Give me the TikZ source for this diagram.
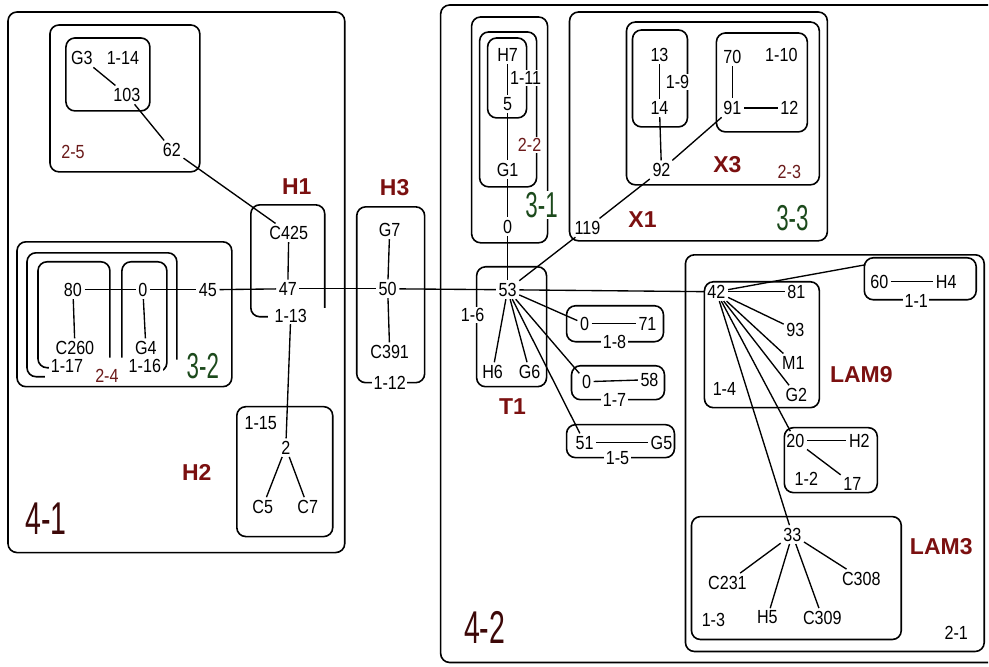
\documentclass[tikz,border=0pt]{standalone}
\usepackage{fontspec}
\setmainfont{Liberation Sans}[FakeStretch=0.85]
\newfontfamily\tagfont{Liberation Sans}
\newfontfamily\bigfont{Liberation Sans}[FakeStretch=0.62]
\definecolor{tagred}{HTML}{7B1010}
\definecolor{lvlred}{HTML}{6B1A1A}
\definecolor{bigred}{HTML}{3D0808}
\definecolor{lvlgreen}{HTML}{1C4A1C}

\begin{document}
\begin{tikzpicture}[x=1pt, y=-1pt,
    grp/.style={line width=1.6pt, rounded corners=9pt},
    lnk/.style={line width=1.35pt},
    el/.style={inner sep=2.5pt, font=\fontsize{19}{21}\selectfont},
    brd/.style={el, fill=white, inner sep=1.5pt},
    lvl/.style={el, text=lvlred},
    tag/.style={text=tagred, font=\tagfont\bfseries\fontsize{23}{25}\selectfont},
    big/.style={text=bigred, font=\bigfont\fontsize{46}{48}\selectfont},
    grn/.style={text=lvlgreen, font=\bigfont\fontsize{36}{38}\selectfont}]
    \fill[white] (0,0) rectangle (989,667);
    \draw[grp] (8,12) rectangle (345,553);
    \draw[grp] (50,25) rectangle (200,172);
    \draw[grp] (66,38) rectangle (150,111);
    \draw[grp] (325,308) -- (325,205) -- (251,205) -- (251,317) -- (268,317);
    \draw[grp] (17,242) rectangle (232,387);
    \draw[grp] (45,377) -- (27,377) -- (27,253) -- (177,253) -- (177,360);
    \draw[grp] (50,368) -- (38,368) -- (38,262) -- (110,262) -- (110,358);
    \draw[grp] (122,358) -- (122,262) -- (167,262) -- (167,372) -- (158,372);
    \draw[grp] (237,407) rectangle (333,537);
    \draw[grp] (357,207) rectangle (425,383);
    \draw[grp] (989,5) -- (441,5) -- (441,663) -- (989,663);
    \draw[grp] (472,17) rectangle (548,243);
    \draw[grp] (480,32) rectangle (537,187);
    \draw[grp] (488,38) rectangle (527,118);
    \draw[grp] (477,267) rectangle (547,387);
    \draw[grp] (567,306) rectangle (664,342);
    \draw[grp] (572,366) rectangle (665,400);
    \draw[grp] (567,425) rectangle (675,458);
    \draw[grp] (570,12) rectangle (828,241);
    \draw[grp] (627,22) rectangle (820,185);
    \draw[grp] (633,30) rectangle (688,127);
    \draw[grp] (717,33) rectangle (808,132);
    \draw[grp] (686,255) rectangle (985,652);
    \draw[grp] (865,258) rectangle (977,300);
    \draw[grp] (705,282) rectangle (820,408);
    \draw[grp] (785,428) rectangle (878,493);
    \draw[grp] (692,517) rectangle (902,640);

    \node[el] (g3) at (82,58) {G3};
    \node[el] (l114) at (123,58) {1-14};
    \node[el] (n103) at (127,95) {103};
    \node[el] (n62) at (172,150) {62};
    \node[lvl] (l25) at (73,152) {2-5};
    \node[tag] (h1) at (297,187) {H1};
    \node[el] (c425) at (289,233) {C425};
    \node[el] (n47) at (288,289) {47};
    \node[brd] (l113) at (291,316) {1-13};
    \node[el] (n45) at (208,290) {45};
    \node[el] (n0a) at (143,290) {0};
    \node[el] (n80) at (73,290) {80};
    \node[el] (c260) at (75,348) {C260};
    \node[el] (g4) at (146,348) {G4};
    \node[brd] (l117) at (67,366) {1-17};
    \node[lvl, fill=white, inner sep=1.5pt] (l24) at (107,376) {2-4};
    \node[brd] (l116) at (145,366) {1-16};
    \node[grn] (l32) at (203,366) {3-2};
    \node[el] (l115) at (261,423) {1-15};
    \node[el] (n2) at (286,448) {2};
    \node[el] (c5) at (263,507) {C5};
    \node[el] (c7) at (308,507) {C7};
    \node[tag] (h2) at (197,473) {H2};
    \node[big] (l41) at (46,519) {4-1};

    \node[tag] (h3) at (395,188) {H3};
    \node[el] (g7) at (390,230) {G7};
    \node[el] (n50) at (388,289) {50};
    \node[el] (c391) at (390,352) {C391};
    \node[brd] (l112) at (390,383) {1-12};

    \node[el] (h7) at (508,55) {H7};
    \node[el] (n5) at (508,104) {5};
    \node[brd] (l111) at (526,78) {1-11};
    \node[lvl, fill=white, inner sep=1.5pt] (l22) at (530,145) {2-2};
    \node[el] (g1) at (508,170) {G1};
    \node[grn, fill=white, inner sep=1pt] (l31) at (542,205) {3-1};
    \node[el] (n0b) at (508,227) {0};

    \node[el] (n53) at (508,290) {53};
    \node[brd] (l16) at (473,315) {1-6};
    \node[el] (h6) at (493,372) {H6};
    \node[el] (g6) at (530,372) {G6};
    \node[tag] (t1) at (513,407) {T1};
    \node[el] (n0c) at (585,324) {0};
    \node[el] (n71) at (648,324) {71};
    \node[brd] (l18) at (615,342) {1-8};
    \node[el] (n0d) at (587,382) {0};
    \node[el] (n58) at (650,380) {58};
    \node[brd] (l17) at (615,400) {1-7};
    \node[el] (n51) at (585,443) {51};
    \node[el] (g5) at (662,443) {G5};
    \node[brd] (l15) at (618,458) {1-5};

    \node[el] (n13) at (660,55) {13};
    \node[el] (n14) at (660,108) {14};
    \node[brd] (l19) at (678,82) {1-9};
    \node[el] (n70) at (733,57) {70};
    \node[el] (l110) at (782,55) {1-10};
    \node[el] (n91) at (733,108) {91};
    \node[el] (n12) at (790,108) {12};
    \node[el] (n92) at (662,170) {92};
    \node[tag] (x3) at (728,165) {X3};
    \node[lvl] (l23) at (790,172) {2-3};
    \node[el] (n119) at (588,228) {119};
    \node[tag] (x1) at (643,220) {X1};
    \node[grn] (l33) at (793,218) {3-3};

    \node[el] (n60) at (880,282) {60};
    \node[el] (h4) at (947,282) {H4};
    \node[brd] (l11) at (917,301) {1-1};
    \coordinate (b11) at (866,265);
    \node[el] (n42) at (717,292) {42};
    \node[el] (n81) at (797,292) {81};
    \node[el] (n93) at (796,330) {93};
    \node[el] (m1) at (794,363) {M1};
    \node[el] (g2) at (797,395) {G2};
    \node[el] (l14) at (725,389) {1-4};
    \node[tag] (lam9) at (862,375) {LAM9};
    \node[el] (n20) at (796,441) {20};
    \node[el] (h2b) at (860,441) {H2};
    \node[el] (l12) at (807,479) {1-2};
    \node[el] (n17) at (853,484) {17};
    \node[el] (n33) at (793,535) {33};
    \node[el] (c231) at (728,583) {C231};
    \node[el] (h5) at (768,618) {H5};
    \node[el] (c309) at (823,618) {C309};
    \node[el] (c308) at (862,579) {C308};
    \node[el] (l13) at (714,620) {1-3};
    \node[tag] (lam3) at (942,547) {LAM3};
    \node[el] (l21) at (957,633) {2-1};
    \node[big] (l42) at (485,628) {4-2};

    \draw[lnk] (g3) -- (n103);
    \draw[lnk] (n103) -- (n62);
    \draw[lnk] (n62) -- (c425);
    \draw[lnk] (c425) -- (n47);
    \draw[lnk] (n80) -- (n0a);
    \draw[lnk] (n0a) -- (n45);
    \draw[lnk] (n45) -- (n47);
    \draw[lnk] (n80) -- (c260);
    \draw[lnk] (n0a) -- (g4);
    \draw[lnk] (n47) -- (n50);
    \draw[lnk] (l113) -- (n2);
    \draw[lnk] (n2) -- (c5);
    \draw[lnk] (n2) -- (c7);
    \draw[lnk] (g7) -- (n50);
    \draw[lnk] (n50) -- (c391);
    \draw[lnk] (n50) -- (n53);
    \draw[lnk] (h7) -- (n5);
    \draw[lnk] (n5) -- (g1);
    \draw[lnk] (g1) -- (n0b);
    \draw[lnk] (n0b) -- (n53);
    \draw[lnk] (n53) -- (h6);
    \draw[lnk] (n53) -- (g6);
    \draw[lnk] (n53) -- (n0c);
    \draw[lnk] (n53) -- (n0d);
    \draw[lnk] (n53) -- (n51);
    \draw[lnk] (n0c) -- (n71);
    \draw[lnk] (n0d) -- (n58);
    \draw[lnk] (n51) -- (g5);
    \draw[lnk] (n53) -- (n119);
    \draw[lnk] (n119) -- (n92);
    \draw[lnk] (n92) -- (n14);
    \draw[lnk] (n13) -- (n14);
    \draw[lnk] (n92) -- (n91);
    \draw[lnk] (n70) -- (n91);
    \draw[lnk] (n91) -- (n12);
    \draw[lnk] (n53) -- (n42);
    \draw[lnk] (n42) -- (b11);
    \draw[lnk] (n60) -- (h4);
    \draw[lnk] (n42) -- (n81);
    \draw[lnk] (n42) -- (n93);
    \draw[lnk] (n42) -- (m1);
    \draw[lnk] (n42) -- (g2);
    \draw[lnk] (n42) -- (n20);
    \draw[lnk] (n42) -- (n33);
    \draw[lnk] (n20) -- (h2b);
    \draw[lnk] (n20) -- (n17);
    \draw[lnk] (n33) -- (c231);
    \draw[lnk] (n33) -- (h5);
    \draw[lnk] (n33) -- (c309);
    \draw[lnk] (n33) -- (c308);
\end{tikzpicture}
\end{document}
